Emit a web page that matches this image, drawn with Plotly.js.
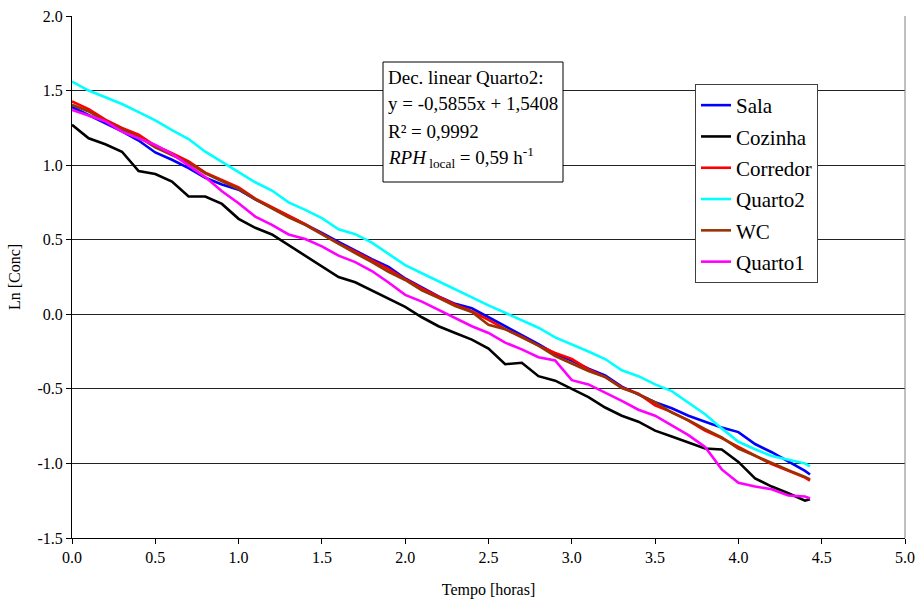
<!DOCTYPE html>
<html><head><meta charset="utf-8">
<script src="https://cdn.plot.ly/plotly-3.0.1.min.js"></script>
<style>html,body{margin:0;padding:0;background:#fff}#c{width:918px;height:603px}
#c .xtick text,#c .ytick text{font-family:"Liberation Serif",serif !important;font-size:16px !important;}
</style>
</head><body><div id="c"></div>
<script>
const tempo = [0,0.1,0.2,0.3,0.4,0.5,0.6,0.7,0.8,0.9,1.0,1.1,1.2,1.3,1.4,1.5,1.6,1.7,1.8,1.9,2.0,2.1,2.2,2.3,2.4,2.5,2.6,2.7,2.8,2.9,3.0,3.1,3.2,3.3,3.4,3.5,3.6,3.7,3.8,3.9,4.0,4.1,4.2,4.3,4.4,4.43];
const sala = [1.39,1.335,1.28,1.226,1.165,1.085,1.036,0.98,0.915,0.87,0.835,0.77,0.715,0.66,0.605,0.545,0.485,0.425,0.37,0.318,0.24,0.18,0.12,0.07,0.04,-0.02,-0.08,-0.135,-0.20,-0.265,-0.31,-0.365,-0.41,-0.485,-0.535,-0.59,-0.63,-0.68,-0.72,-0.76,-0.79,-0.87,-0.925,-0.985,-1.05,-1.074];
const cozinha = [1.27,1.18,1.14,1.09,0.96,0.94,0.89,0.79,0.79,0.74,0.64,0.58,0.535,0.465,0.39,0.32,0.25,0.215,0.16,0.11,0.05,-0.02,-0.08,-0.125,-0.17,-0.23,-0.335,-0.325,-0.415,-0.445,-0.50,-0.555,-0.625,-0.68,-0.72,-0.78,-0.82,-0.86,-0.90,-0.907,-0.99,-1.10,-1.155,-1.20,-1.25,-1.24];
const corredor = [1.428,1.375,1.305,1.25,1.205,1.13,1.08,1.025,0.95,0.902,0.85,0.775,0.717,0.66,0.605,0.54,0.475,0.42,0.36,0.303,0.235,0.173,0.118,0.065,0.02,-0.037,-0.10,-0.15,-0.21,-0.26,-0.30,-0.37,-0.42,-0.49,-0.533,-0.61,-0.656,-0.713,-0.78,-0.83,-0.89,-0.945,-1.005,-1.05,-1.095,-1.115];
const quarto2 = [1.56,1.50,1.455,1.41,1.355,1.30,1.235,1.175,1.09,1.02,0.955,0.885,0.83,0.75,0.70,0.645,0.57,0.537,0.48,0.405,0.33,0.275,0.22,0.17,0.11,0.06,0.01,-0.04,-0.09,-0.155,-0.20,-0.25,-0.30,-0.375,-0.415,-0.47,-0.515,-0.59,-0.67,-0.765,-0.855,-0.905,-0.95,-0.975,-1.00,-1.02];
const wc = [1.405,1.36,1.295,1.245,1.19,1.12,1.07,1.015,0.945,0.89,0.84,0.77,0.71,0.65,0.60,0.535,0.47,0.41,0.35,0.285,0.23,0.16,0.11,0.055,0.015,-0.07,-0.10,-0.155,-0.21,-0.28,-0.33,-0.38,-0.42,-0.495,-0.535,-0.59,-0.66,-0.71,-0.77,-0.825,-0.90,-0.95,-0.995,-1.045,-1.09,-1.107];
const quarto1 = [1.37,1.33,1.294,1.225,1.178,1.135,1.075,0.995,0.92,0.825,0.745,0.655,0.60,0.535,0.505,0.455,0.393,0.35,0.29,0.213,0.13,0.085,0.03,-0.025,-0.08,-0.125,-0.19,-0.235,-0.288,-0.31,-0.442,-0.47,-0.523,-0.58,-0.64,-0.68,-0.745,-0.81,-0.89,-1.04,-1.13,-1.155,-1.173,-1.215,-1.222,-1.235];

const names = ["Sala","Cozinha","Corredor","Quarto2","WC","Quarto1"];
const series = [sala,cozinha,corredor,quarto2,wc,quarto1];
const colors = ["#0000FF","#000000","#FF0000","#00FFFF","#993300","#FF00FF"];
const xTicks = [0,0.5,1,1.5,2,2.5,3,3.5,4,4.5,5];
const yTicks = [-1.5,-1,-0.5,0,0.5,1,1.5,2];
const boxLines = ["Dec. linear Quarto2:","y = -0,5855x + 1,5408","R² = 0,9992","<i>RPH</i><sub> local</sub> = 0,59 h<sup>-1</sup>"];

const FONT = "Liberation Serif";
const traces = series.map((s,i)=>({
  x: tempo, y: s, type:"scatter", mode:"lines", name:names[i],
  legendgroup:"g"+i,
  line:{color:colors[i], width:2.6}
}));

// plot area in pixels
const L=72, R=905, T=16, B=538;
const px = v => (v-L)/(R-L);
const py = v => (B-v)/(B-T);

const annotations = boxLines.map((txt,i)=>({
  xref:"paper", yref:"paper", x:px(386), y:py([77,104,131,158][i]),
  xanchor:"left", yanchor:"middle", showarrow:false, text:txt,
  font:{family:FONT, size:19, color:"#000"}
}));

const layout = {
  width:918, height:603,
  margin:{l:L, r:918-R, t:T, b:603-B, pad:0},
  paper_bgcolor:"#fff", plot_bgcolor:"#fff",
  font:{family:FONT, size:16, color:"#000"},
  showlegend:true,
  legend:{x:px(695), y:py(84), xanchor:"left", yanchor:"top",
    bgcolor:"#fff", bordercolor:"#404040", borderwidth:1,
    font:{family:FONT, size:21, color:"#000"},
    traceorder:"grouped", tracegroupgap:1, itemwidth:30},
  xaxis:{range:[0,5], tickvals:xTicks, ticktext:xTicks.map(v=>v.toFixed(1)),
    showgrid:false, zeroline:false, showline:true, linecolor:"#000", linewidth:1,
    ticks:"outside", ticklen:5, tickcolor:"#000",
    tickfont:{family:FONT,size:16,color:"#000"},
    title:{text:"Tempo [horas]", font:{family:FONT,size:16,color:"#000"}, standoff:18},
    automargin:false},
  yaxis:{range:[-1.5,2], tickvals:yTicks, ticktext:yTicks.map(v=>v.toFixed(1)),
    showgrid:true, gridcolor:"#222", gridwidth:1, zeroline:false,
    showline:true, linecolor:"#000", linewidth:1,
    ticks:"outside", ticklen:5, tickcolor:"#000",
    tickfont:{family:FONT,size:16,color:"#000"},
    title:{text:"Ln [Conc]", font:{family:FONT,size:16,color:"#000"}, standoff:12},
    automargin:false},
  shapes:[
    {type:"line", xref:"paper", yref:"paper", x0:1, x1:1, y0:0, y1:1, line:{color:"#808080", width:1}},
    {type:"rect", xref:"paper", yref:"paper", x0:px(383), x1:px(563), y0:py(62), y1:py(182),
     fillcolor:"#fff", line:{color:"#000", width:1}, layer:"above"}
  ],
  annotations: annotations
};
Plotly.newPlot("c", traces, layout, {staticPlot:true, displayModeBar:false});
</script>
</body></html>
